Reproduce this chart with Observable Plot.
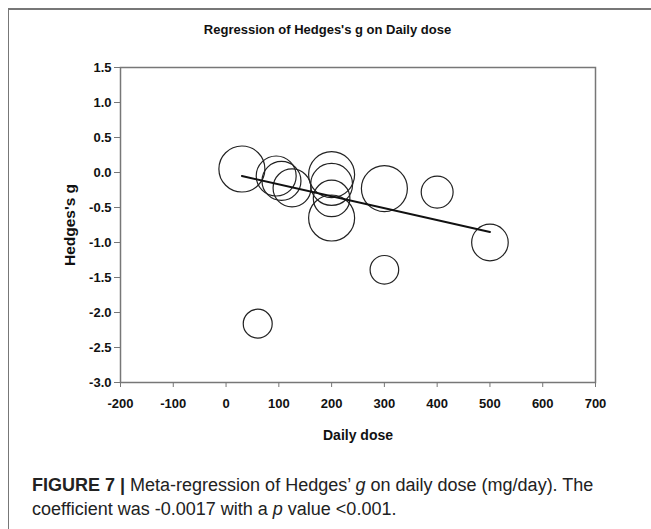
<!DOCTYPE html>
<html><head><meta charset="utf-8">
<script src="https://cdn.jsdelivr.net/npm/d3@7"></script>
<script src="https://cdn.jsdelivr.net/npm/@observablehq/plot@0.6"></script>
<style>
html,body{margin:0;padding:0;background:#fff;overflow:hidden;width:651px;height:529px}
#box{position:absolute;left:8px;top:8px;width:700px;height:600px;border-left:1.5px solid #777;border-top:2px solid #777;}
#title{position:absolute;left:0;width:655px;top:22px;text-align:center;font:bold 13px "Liberation Sans",Arial,sans-serif;color:#111}
#chart{position:absolute;left:0;top:0}
#caption{position:absolute;left:32px;top:473px;font:18px "Liberation Sans",Arial,sans-serif;line-height:24px;color:#222;white-space:nowrap}
</style></head>
<body>
<div id="box"></div>
<div id="chart"></div>
<div id="title">Regression of Hedges's g on Daily dose</div>
<div id="caption"><b>FIGURE 7 |</b> Meta-regression of Hedges’ <i>g</i> on daily dose (mg/day). The<br>coefficient was -0.0017 with a <i>p</i> value &lt;0.001.</div>
<script>
const dose    = [30, 95, 105, 125, 200, 200, 200, 200, 300, 400, 500, 300, 60];
const hedgesG = [0.05, -0.05, -0.12, -0.22, -0.03, -0.17, -0.37, -0.65, -0.23, -0.28, -1.0, -1.39, -2.16];
const weight  = [10.6, 8.0, 7.6, 7.2, 10.6, 8.8, 6.7, 10.6, 10.6, 5.1, 6.7, 4.1, 4.2];
const lineDose = [30, 500];
const lineG    = [-0.05, -0.85];
const xTicks = [-200, -100, 0, 100, 200, 300, 400, 500, 600, 700];
const yTicks = [1.5, 1.0, 0.5, 0.0, -0.5, -1.0, -1.5, -2.0, -2.5, -3.0];
const xLabel = "Daily dose";
const yLabel = "Hedges's g";

const studies = dose.map((d, i) => ({dose: d, g: hedgesG[i], w: weight[i]}));
const fit = lineDose.map((d, i) => ({dose: d, g: lineG[i]}));

const chart = Plot.plot({
  width: 651,
  height: 460,
  marginLeft: 120,
  marginRight: 56,
  marginTop: 67,
  marginBottom: 78,
  style: {fontFamily: "'Liberation Sans', Arial, sans-serif", fontSize: "12.5px", fontWeight: "bold", background: "transparent", color: "#111"},
  x: {domain: [-200, 700]},
  y: {domain: [-3, 1.5]},
  r: {type: "sqrt", range: [0, 23]},
  marks: [
    Plot.frame({stroke: "#777", strokeWidth: 1.5}),
    Plot.axisX({ticks: xTicks, tickFormat: d => String(d), tickSize: 5, tickPadding: 11, stroke: "#777", fill: "#111", fontSize: 13, fontWeight: "bold", label: null}),
    Plot.axisY({ticks: yTicks, tickFormat: d => d.toFixed(1), tickSize: 6, tickPadding: 3, stroke: "#777", fill: "#111", fontSize: 13, fontWeight: "bold", label: null}),
    Plot.dot(studies, {x: "dose", y: "g", r: "w", stroke: "#222", strokeWidth: 1.2, fill: "none"}),
    Plot.line(fit, {x: "dose", y: "g", stroke: "#111", strokeWidth: 2}),
    Plot.text([xLabel], {text: d => d, frameAnchor: "bottom", dy: 57, fontSize: 14, fontWeight: "bold", fill: "#111"}),
    Plot.text([yLabel], {text: d => d, frameAnchor: "left", textAnchor: "middle", dx: -50, rotate: -90, fontSize: 15.5, fontWeight: "bold", fill: "#111"})
  ]
});
document.getElementById("chart").appendChild(chart);
</script>
</body></html>
